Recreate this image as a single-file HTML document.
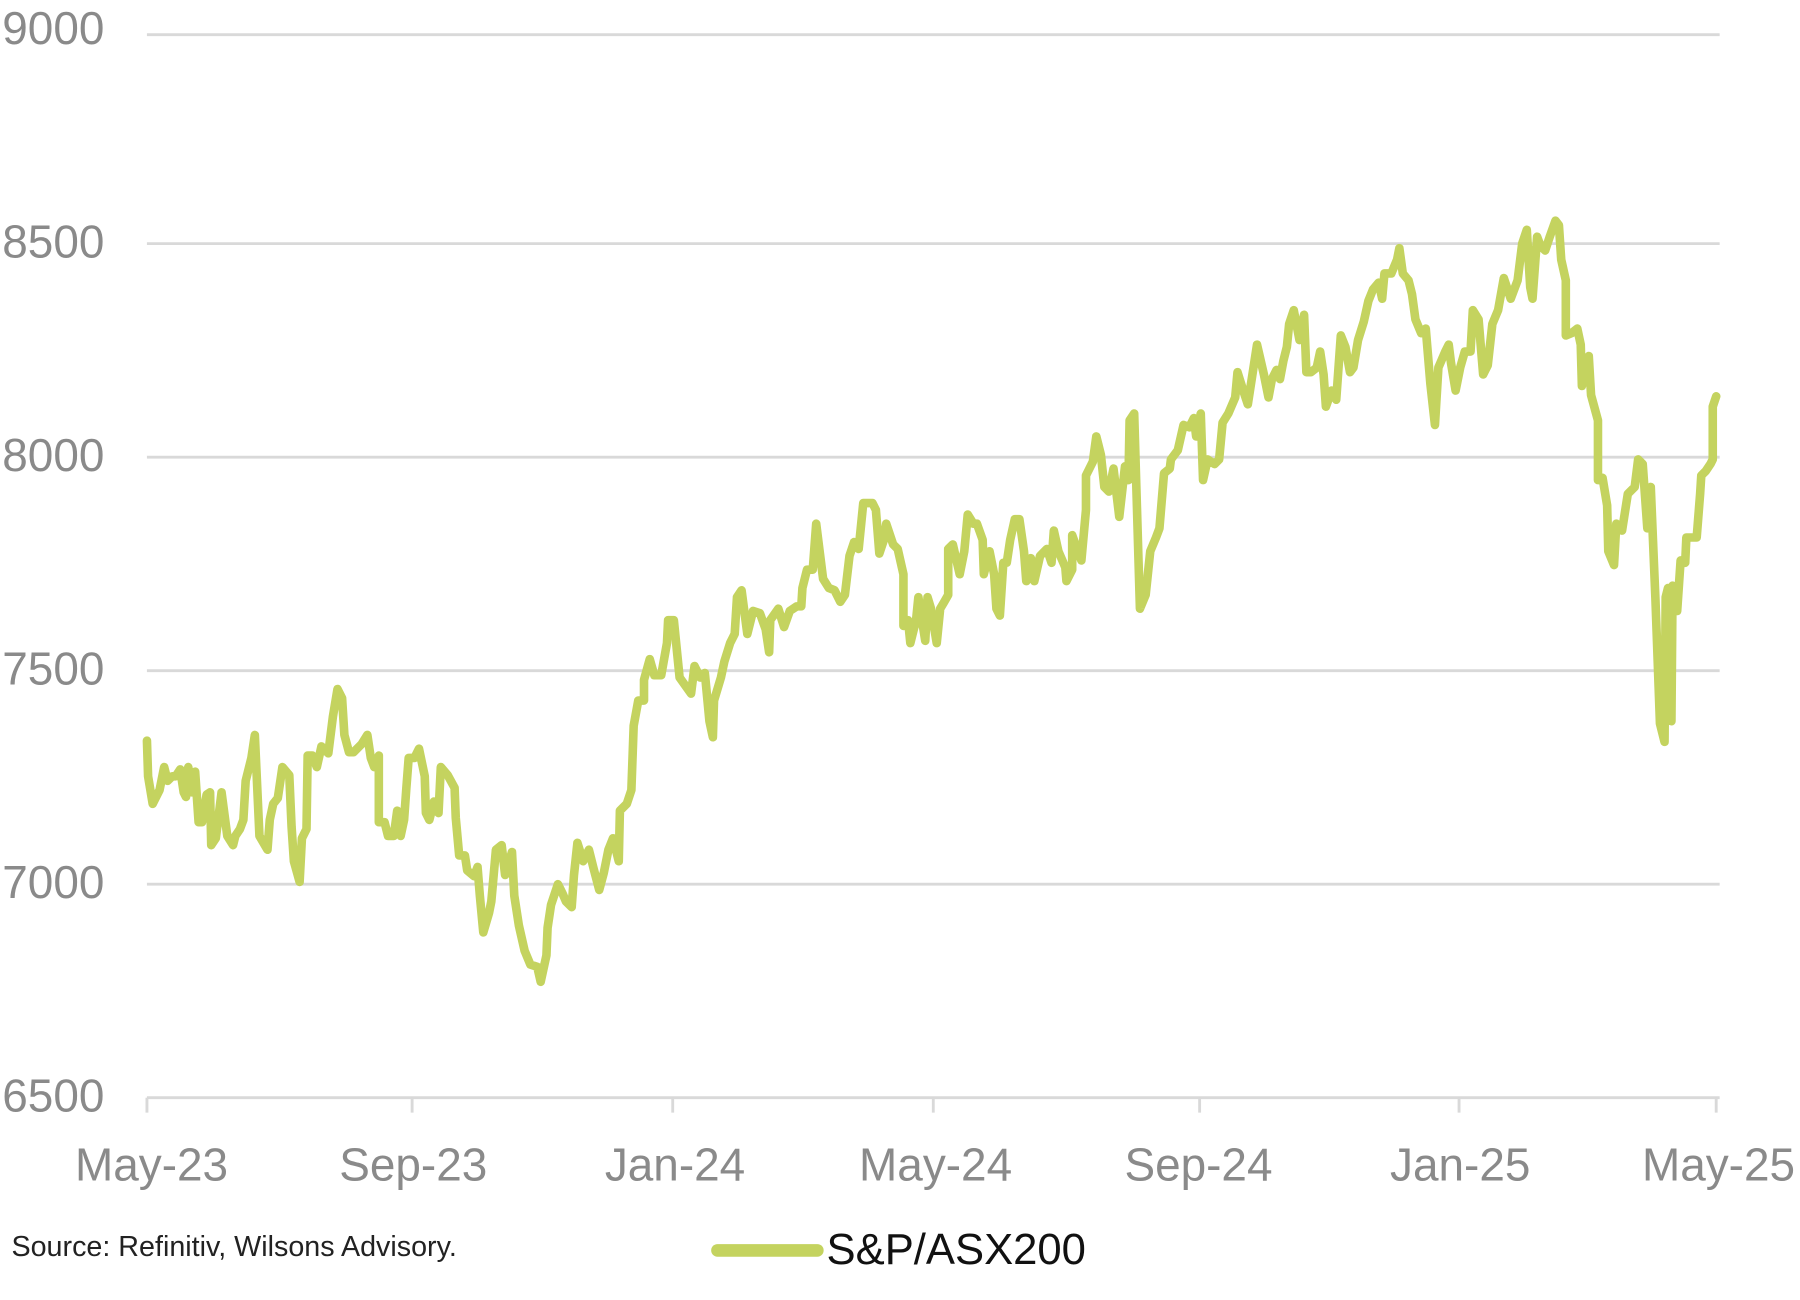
<!DOCTYPE html>
<html><head><meta charset="utf-8"><style>
html,body{margin:0;padding:0;background:#fff;}
svg{display:block;}
text{font-family:"Liberation Sans","DejaVu Sans",sans-serif;}
</style></head><body>
<svg width="1800" height="1300" viewBox="0 0 1568 1132" xmlns="http://www.w3.org/2000/svg">
<g stroke="#d9d9d9" stroke-width="2.5">
<line x1="128" y1="30" x2="1498" y2="30"/>
<line x1="128" y1="212" x2="1498" y2="212"/>
<line x1="128" y1="398" x2="1498" y2="398"/>
<line x1="128" y1="584" x2="1498" y2="584"/>
<line x1="128" y1="770" x2="1498" y2="770"/>
<line x1="128" y1="956" x2="1498" y2="956"/>
<line x1="128" y1="956" x2="128" y2="969"/>
<line x1="359" y1="956" x2="359" y2="969"/>
<line x1="586" y1="956" x2="586" y2="969"/>
<line x1="813" y1="956" x2="813" y2="969"/>
<line x1="1045" y1="956" x2="1045" y2="969"/>
<line x1="1271" y1="956" x2="1271" y2="969"/>
<line x1="1495" y1="956" x2="1495" y2="969"/>
</g>
<g fill="#8a8a8a" font-size="40">
<text x="2" y="38">9000</text>
<text x="2" y="224">8500</text>
<text x="2" y="410">8000</text>
<text x="2" y="596">7500</text>
<text x="2" y="782">7000</text>
<text x="2" y="968">6500</text>
</g>
<g fill="#8a8a8a" font-size="40" text-anchor="middle">
<text x="132" y="1028">May-23</text>
<text x="360" y="1028">Sep-23</text>
<text x="588" y="1028">Jan-24</text>
<text x="815" y="1028">May-24</text>
<text x="1044" y="1028">Sep-24</text>
<text x="1272" y="1028">Jan-25</text>
<text x="1497" y="1028">May-25</text>
</g>
<polyline fill="none" stroke="#c4d35f" stroke-width="7.5" stroke-linejoin="round" stroke-linecap="round" points="128,645 129,676 133,700 139,688 143,668 146,680 150,676 153,676 157,670 160,690 162,694 164,668 167,690 170,672 173,716 176,716 180,692 183,690 184,736 188,730 193,690 198,728 203,736 205,728 209,722 212,714 214,680 219,660 222,640 226,728 233,740 235,714 238,700 242,695 246,668 252,675 254,720 256,750 261,768 263,730 267,722 268,658 272,658 276,668 280,650 286,656 290,624 294,600 298,608 300,640 304,655 308,655 315,648 320,640 323,660 326,668 330,658 330,716 335,716 338,728 343,728 346,706 349,728 352,714 354,686 356,660 361,660 365,652 370,676 371,708 374,714 378,698 382,708 384,668 390,675 396,686 397,712 400,745 405,745 407,758 413,763 416,755 418,780 421,812 426,795 428,785 432,740 437,736 440,762 446,742 448,780 452,806 457,828 462,840 468,842 471,855 476,832 477,808 480,788 486,770 490,778 493,785 498,790 500,762 503,734 508,750 513,740 517,756 522,775 526,760 530,740 534,730 539,750 540,706 546,700 550,688 552,632 556,610 561,610 561,592 566,574 570,588 576,588 581,560 582,540 587,540 592,590 602,604 605,580 610,590 614,586 618,628 621,642 622,610 628,590 631,576 636,560 640,552 642,520 646,514 651,552 656,532 662,534 667,548 670,568 671,540 678,530 683,546 688,532 694,528 698,528 699,512 703,496 708,496 711,456 717,504 722,512 727,514 732,524 736,518 740,484 744,472 748,478 752,438 760,438 763,444 766,482 770,470 772,456 778,474 782,478 787,500 787,545 791,540 793,560 798,540 800,520 806,558 808,520 811,530 816,560 819,530 822,525 826,518 826,478 830,474 836,500 840,480 843,448 848,456 851,456 856,470 857,500 862,480 866,500 868,530 871,536 874,490 877,490 880,470 884,452 888,452 892,480 894,506 898,486 901,506 906,484 908,482 912,478 916,490 918,462 922,480 928,494 929,506 934,496 934,466 939,480 942,488 946,444 946,414 952,402 955,380 959,396 962,424 966,428 970,408 975,450 980,406 983,418 984,366 988,360 993,530 998,518 1002,480 1007,468 1010,460 1014,412 1019,408 1020,400 1023,396 1026,392 1031,370 1036,372 1040,364 1042,380 1046,360 1048,418 1052,400 1058,404 1062,400 1065,368 1070,360 1076,346 1078,324 1083,340 1087,352 1091,326 1095,300 1101,326 1105,346 1108,330 1112,322 1115,330 1118,314 1121,302 1123,282 1127,270 1132,296 1136,274 1138,324 1142,324 1147,320 1150,306 1153,326 1155,354 1160,340 1164,348 1168,292 1172,302 1176,324 1179,320 1183,296 1188,280 1192,262 1196,252 1201,246 1204,260 1206,238 1212,238 1217,226 1219,216 1222,238 1227,244 1230,256 1233,278 1238,290 1242,286 1246,334 1250,370 1253,320 1259,306 1262,300 1264,316 1268,340 1272,320 1276,306 1281,306 1283,270 1288,278 1292,326 1296,318 1300,282 1305,270 1310,242 1316,260 1322,244 1326,212 1330,200 1333,250 1335,260 1339,206 1342,214 1346,218 1350,206 1355,192 1358,196 1360,226 1364,244 1364,292 1369,290 1374,286 1377,300 1378,336 1382,320 1384,310 1386,344 1392,366 1392,418 1396,416 1400,440 1401,480 1406,492 1408,456 1413,462 1418,430 1424,424 1427,400 1431,404 1435,460 1438,424 1442,520 1446,630 1450,646 1451,520 1453,512 1456,628 1457,510 1461,532 1464,488 1468,490 1469,468 1474,468 1478,468 1481,430 1482,414 1486,410 1490,404 1492,400 1492,354 1495,345"/>
<text x="10" y="1094" font-size="25" fill="#222">Source: Refinitiv, Wilsons Advisory.</text>
<line x1="625" y1="1089" x2="712" y2="1089" stroke="#c4d35f" stroke-width="11" stroke-linecap="round"/>
<text x="720" y="1101" font-size="38" fill="#111">S&amp;P/ASX200</text>
</svg>
</body></html>
